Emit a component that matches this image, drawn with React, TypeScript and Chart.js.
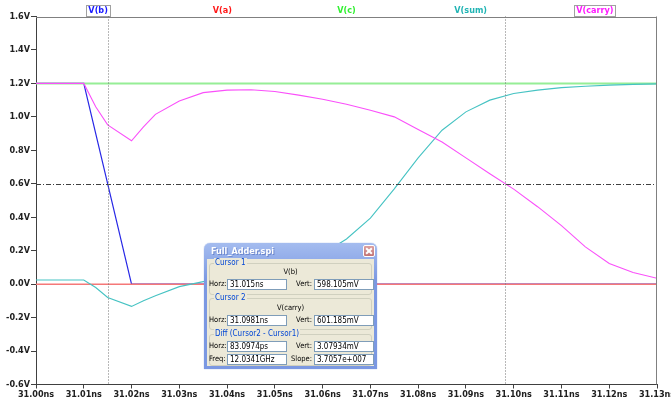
import { useEffect, useRef } from 'react';
import { Chart, registerables } from 'chart.js';

Chart.register(...registerables);

// ---------- data ----------
const seriesLabels = ['V(b)', 'V(a)', 'V(c)', 'V(sum)', 'V(carry)'];

const timeNs = [
  31.0, 31.01, 31.0125, 31.015, 31.02, 31.0225, 31.025, 31.03, 31.035, 31.04,
  31.045, 31.05, 31.055, 31.06, 31.065, 31.07, 31.075, 31.08, 31.085, 31.09,
  31.095, 31.1, 31.105, 31.11, 31.115, 31.12, 31.125, 31.13,
];
const vCarry = [
  1.2, 1.2, 1.06, 0.952, 0.857, 0.94, 1.015, 1.095, 1.145, 1.16,
  1.162, 1.152, 1.13, 1.105, 1.075, 1.04, 1.0, 0.924, 0.85, 0.755,
  0.66, 0.568, 0.463, 0.35, 0.223, 0.123, 0.07, 0.035,
];
const vSum = [
  0.025, 0.025, -0.02, -0.08, -0.133, -0.1, -0.07, -0.015, 0.015, 0.035,
  0.055, 0.08, 0.12, 0.18, 0.27, 0.395, 0.57, 0.755, 0.92, 1.03,
  1.1, 1.14, 1.16, 1.175, 1.183, 1.19, 1.194, 1.197,
];
const vBTime = [31.0, 31.01, 31.02, 31.13];
const vB = [1.2, 1.2, 0.0, 0.0];
const vATime = [31.0, 31.13];
const vA = [0.0, 0.0];
const vCTime = [31.0, 31.13];
const vC = [1.2, 1.2];

const xTicks = [
  31.0, 31.01, 31.02, 31.03, 31.04, 31.05, 31.06, 31.07, 31.08, 31.09, 31.1,
  31.11, 31.12, 31.13,
];
const yTicks = [-0.6, -0.4, -0.2, 0.0, 0.2, 0.4, 0.6, 0.8, 1.0, 1.2, 1.4, 1.6];

const cursorTimes = [31.015, 31.0981];
const cursorLevels = [0.598105, 0.601185];
const cursorTraces = ['V(b)', 'V(carry)'];

// ---------- styles ----------
const traceColors: Record<string, string> = {
  'V(b)': 'rgb(40,40,230)',
  'V(a)': 'rgb(245,120,120)',
  'V(c)': 'rgb(150,238,150)',
  'V(sum)': 'rgb(70,195,195)',
  'V(carry)': 'rgb(250,80,250)',
};
const labelColors: Record<string, string> = {
  'V(b)': '#1818ff',
  'V(a)': '#ff1818',
  'V(c)': '#30f030',
  'V(sum)': '#20b4b4',
  'V(carry)': '#ff18ff',
};
const chartFont = "'Liberation Sans Narrow','DejaVu Sans Condensed','Liberation Sans',sans-serif";

const pts = (xs: number[], ys: number[]) => xs.map((x, i) => ({ x, y: ys[i] }));

const ltspicePlugin = {
  id: 'ltspiceOverlay',
  afterDatasetsDraw(chart: any) {
    const { ctx, chartArea: ca, scales } = chart;
    const x = scales.x;
    const y = scales.y;
    ctx.save();
    ctx.lineWidth = 1;
    ctx.strokeStyle = '#404040';
    ctx.setLineDash([5, 2, 1, 2]);
    cursorLevels.forEach((lv) => {
      const yp = Math.round(y.getPixelForValue(lv)) + 0.5;
      ctx.beginPath();
      ctx.moveTo(ca.left, yp);
      ctx.lineTo(ca.right, yp);
      ctx.stroke();
    });
    ctx.strokeStyle = '#707070';
    ctx.setLineDash([1, 2]);
    cursorTimes.forEach((t) => {
      const xp = Math.round(x.getPixelForValue(t)) + 0.5;
      ctx.beginPath();
      ctx.moveTo(xp, ca.top);
      ctx.lineTo(xp, ca.bottom);
      ctx.stroke();
    });
    ctx.restore();
  },
  afterDraw(chart: any) {
    const { ctx, chartArea: ca } = chart;
    ctx.save();
    ctx.strokeStyle = '#808080';
    ctx.lineWidth = 1;
    ctx.beginPath();
    ctx.moveTo(ca.left, Math.round(ca.top) + 0.5);
    ctx.lineTo(ca.right, Math.round(ca.top) + 0.5);
    ctx.moveTo(Math.round(ca.right) - 0.5, ca.top);
    ctx.lineTo(Math.round(ca.right) - 0.5, ca.bottom);
    ctx.stroke();
    ctx.font = `bold 9px ${chartFont}`;
    ctx.textAlign = 'center';
    ctx.textBaseline = 'middle';
    const w = ca.right - ca.left;
    const n = seriesLabels.length;
    const ty = ca.top - 6;
    seriesLabels.forEach((lab, i) => {
      const cx = ca.left + (w * (i + 0.5)) / n;
      ctx.fillStyle = labelColors[lab];
      ctx.fillText(lab, cx, ty);
      if (cursorTraces.includes(lab)) {
        const tw = ctx.measureText(lab).width;
        ctx.strokeStyle = '#404040';
        ctx.setLineDash([1, 1]);
        const l = Math.round(cx - tw / 2 - 2) + 0.5;
        const r = Math.round(cx + tw / 2 + 2) + 0.5;
        ctx.strokeRect(l, Math.round(ty - 6) + 0.5, r - l, 11);
        ctx.setLineDash([]);
      }
    });
    ctx.restore();
  },
};

// ---------- dialog ----------
const dlgFont = "'Liberation Sans Narrow','DejaVu Sans Condensed','Liberation Sans',sans-serif";

function Field({ left, top, width, text }: { left: number; top: number; width: number; text: string }) {
  return (
    <div
      style={{
        position: 'absolute', left, top, width, height: 11, boxSizing: 'border-box',
        background: '#fff', border: '1px solid #7f9db9', fontFamily: dlgFont,
        fontSize: 8, lineHeight: '9px', paddingLeft: 2, color: '#000', whiteSpace: 'nowrap',
      }}
    >
      {text}
    </div>
  );
}

function Lbl({ left, top, width, text, align }: { left: number; top: number; width: number; text: string; align?: 'left' | 'right' | 'center' }) {
  return (
    <div
      style={{
        position: 'absolute', left, top, width, height: 11, fontFamily: dlgFont, fontSize: 7.5,
        lineHeight: '11px', color: '#000', textAlign: align || 'left', whiteSpace: 'nowrap',
      }}
    >
      {text}
    </div>
  );
}

function Group({ top, height, title }: { top: number; height: number; title: string }) {
  return (
    <div
      style={{
        position: 'absolute', left: 2, top, width: 163, height, boxSizing: 'border-box',
        border: '1px solid #d0d0bf', borderRadius: 3,
      }}
    >
      <div
        style={{
          position: 'absolute', left: 4, top: -6, padding: '0 1px', background: '#ece9d8',
          fontFamily: dlgFont, fontSize: 8, lineHeight: '10px', color: '#0046d5', whiteSpace: 'nowrap',
        }}
      >
        {title}
      </div>
    </div>
  );
}

function CursorDialog() {
  return (
    <div
      style={{
        position: 'absolute', left: 204, top: 243, width: 173, height: 126,
        background: 'linear-gradient(#a4bcef, #7b98e2 30%, #7b98e2)',
        borderRadius: '6px 6px 0 0', boxShadow: '0 0 1px #6080d0',
      }}
    >
      <div
        style={{
          position: 'absolute', left: 7, top: 2, fontFamily: dlgFont, fontSize: 9, fontWeight: 'bold',
          color: '#fff', lineHeight: '12px', textShadow: '1px 1px 0 #6b86cc', whiteSpace: 'nowrap',
        }}
      >
        Full_Adder.spi
      </div>
      <div
        style={{
          position: 'absolute', left: 159, top: 2, width: 12, height: 12, boxSizing: 'border-box',
          border: '1px solid #fff', borderRadius: 2, background: 'linear-gradient(#dca0a0, #c27474)',
        }}
      >
        <div style={{ position: 'absolute', left: 1, top: 4, width: 8, height: 2, background: '#fff', transform: 'rotate(45deg)' }} />
        <div style={{ position: 'absolute', left: 1, top: 4, width: 8, height: 2, background: '#fff', transform: 'rotate(-45deg)' }} />
      </div>
      <div style={{ position: 'absolute', left: 3, top: 16, right: 3, bottom: 3, background: '#ece9d8' }}>
        <Group top={4} height={32} title="Cursor 1" />
        <Lbl left={0} top={7} width={167} text="V(b)" align="center" />
        <Lbl left={2} top={19} width={18} text="Horz:" />
        <Field left={20} top={20} width={60} text="31.015ns" />
        <Lbl left={80} top={19} width={25} text="Vert:" align="right" />
        <Field left={107} top={20} width={60} text="598.105mV" />

        <Group top={39} height={32} title="Cursor 2" />
        <Lbl left={0} top={43} width={167} text="V(carry)" align="center" />
        <Lbl left={2} top={55} width={18} text="Horz:" />
        <Field left={20} top={56} width={60} text="31.0981ns" />
        <Lbl left={80} top={55} width={25} text="Vert:" align="right" />
        <Field left={107} top={56} width={60} text="601.185mV" />

        <Group top={75} height={32} title="Diff (Cursor2 - Cursor1)" />
        <Lbl left={2} top={81} width={18} text="Horz:" />
        <Field left={20} top={82} width={60} text="83.0974ps" />
        <Lbl left={80} top={81} width={25} text="Vert:" align="right" />
        <Field left={107} top={82} width={60} text="3.07934mV" />
        <Lbl left={2} top={94} width={18} text="Freq:" />
        <Field left={20} top={95} width={60} text="12.0341GHz" />
        <Lbl left={80} top={94} width={25} text="Slope:" align="right" />
        <Field left={107} top={95} width={60} text="3.7057e+007" />
      </div>
    </div>
  );
}

export default function App() {
  const canvasRef = useRef<HTMLCanvasElement | null>(null);

  useEffect(() => {
    if (!canvasRef.current) return;
    const tickFont = { family: chartFont, size: 9, weight: 'bold' as const };
    const mk = (label: string, xs: number[], ys: number[], order: number, width: number) => ({
      label,
      data: pts(xs, ys),
      borderColor: traceColors[label],
      backgroundColor: traceColors[label],
      borderWidth: width,
      pointRadius: 0,
      tension: 0,
      fill: false,
      order,
    });
    const chart = new Chart(canvasRef.current, {
      type: 'line',
      data: {
        datasets: [
          mk('V(b)', vBTime, vB, 5, 1.2),
          mk('V(a)', vATime, vA, 3, 1.5),
          mk('V(c)', vCTime, vC, 4, 2),
          mk('V(sum)', timeNs, vSum, 2, 1.1),
          mk('V(carry)', timeNs, vCarry, 1, 1.1),
        ],
      },
      options: {
        animation: false,
        responsive: true,
        maintainAspectRatio: false,
        events: [],
        layout: { padding: { top: 16.5, right: 14, left: 0, bottom: 0 } },
        plugins: { legend: { display: false }, tooltip: { enabled: false } },
        scales: {
          x: {
            type: 'linear',
            min: 31.0,
            max: 31.13,
            afterBuildTicks: (s: any) => {
              s.ticks = xTicks.map((v) => ({ value: v }));
            },
            afterFit: (s: any) => {
              s.height = 18.5;
              s.paddingLeft = 0;
              s.paddingRight = 0;
            },
            ticks: {
              callback: (v: any) => Number(v).toFixed(2) + 'ns',
              font: tickFont,
              color: '#202020',
              padding: 1,
              maxRotation: 0,
              autoSkip: false,
            },
            grid: { drawOnChartArea: false, drawTicks: true, tickLength: 4, color: '#404040' },
            border: { display: true, color: '#404040' },
          },
          y: {
            type: 'linear',
            min: -0.6,
            max: 1.6,
            afterBuildTicks: (s: any) => {
              s.ticks = yTicks.map((v) => ({ value: v }));
            },
            afterFit: (s: any) => {
              s.width = 36;
              s.paddingTop = 0;
              s.paddingBottom = 0;
            },
            ticks: {
              callback: (v: any) => Number(v).toFixed(1) + 'V',
              font: tickFont,
              color: '#202020',
              padding: 1,
              autoSkip: false,
            },
            grid: { drawOnChartArea: false, drawTicks: true, tickLength: 5, color: '#404040' },
            border: { display: true, color: '#404040' },
          },
        },
      } as any,
      plugins: [ltspicePlugin],
    });
    return () => chart.destroy();
  }, []);

  return (
    <div style={{ position: 'fixed', left: 0, top: 0, width: 671, height: 403, background: '#fff' }}>
      <canvas ref={canvasRef} />
      <CursorDialog />
    </div>
  );
}
